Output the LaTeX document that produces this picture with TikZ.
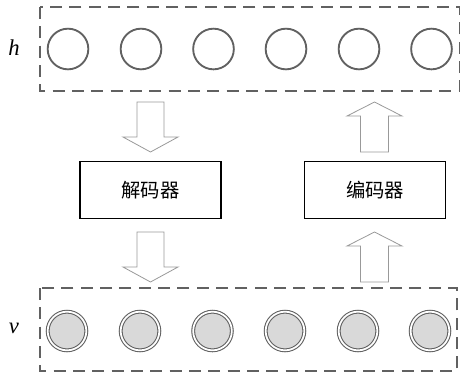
\documentclass[tikz,border=0pt]{standalone}
\usepackage{fontspec}
\setmainfont{Liberation Serif}
\newfontfamily\cjk{Noto Sans CJK SC}
\definecolor{linegray}{gray}{0.38}
\definecolor{arrowgray}{gray}{0.6}
\definecolor{fillgray}{gray}{0.85}
\tikzset{
  layerbox/.style={draw=linegray, line width=1.4pt, dash pattern=on 9pt off 5.5pt},
  hunit/.style={circle, draw=linegray, line width=1.4pt, minimum size=30.5pt, inner sep=0pt},
  vunit/.style={circle, draw=linegray, line width=0.8pt, fill=fillgray, double=white, double distance=1.3pt, minimum size=29pt, inner sep=0pt},
  codebox/.style={draw=black, line width=1.1pt, minimum width=105.5pt, minimum height=42.5pt, inner sep=0pt, font=\cjk\fontsize{14.5pt}{16pt}\selectfont},
  fatarrow/.style={draw=arrowgray, line width=0.6pt, fill=white},
  varlabel/.style={font=\fontsize{17pt}{19pt}\selectfont\itshape, inner sep=0pt}
}
\begin{document}
\begin{tikzpicture}[x=0.75pt, y=-0.75pt]
\useasboundingbox (0,0) rectangle (460,380);
% layer boxes
\draw[layerbox] (40,7) rectangle (460,91);
\draw[layerbox] (40,288) rectangle (457,371);
\node[varlabel] (hl) at (14,48) {h};
\node[varlabel] (vl) at (14,328) {v};
% hidden units
\foreach \i/\x in {1/68,2/141,3/213.5,4/286,5/359,6/431.5}{
  \node[hunit] (h\i) at (\x,49) {};
}
\foreach \i/\x in {1/67,2/140,3/212.5,4/285,5/358,6/430}{
  \node[vunit] (v\i) at (\x,331) {};
}
% boxes
\node[codebox] (dec) at (150.5,190) {解码器};
\node[codebox] (enc) at (375,190) {编码器};
% down arrows (decoder)
\foreach \t in {102,232}{
  \draw[fatarrow] (137,\t) -- (164,\t) -- (164,\t+35) -- (178,\t+35) -- (150.5,\t+50) -- (123,\t+35) -- (137,\t+35) -- cycle;
}
% up arrows (encoder)
\foreach \t in {102,232}{
  \draw[fatarrow] (374.5,\t) -- (402,\t+14) -- (388.5,\t+14) -- (388.5,\t+50) -- (360.5,\t+50) -- (360.5,\t+14) -- (347,\t+14) -- cycle;
}
\end{tikzpicture}
\end{document}
